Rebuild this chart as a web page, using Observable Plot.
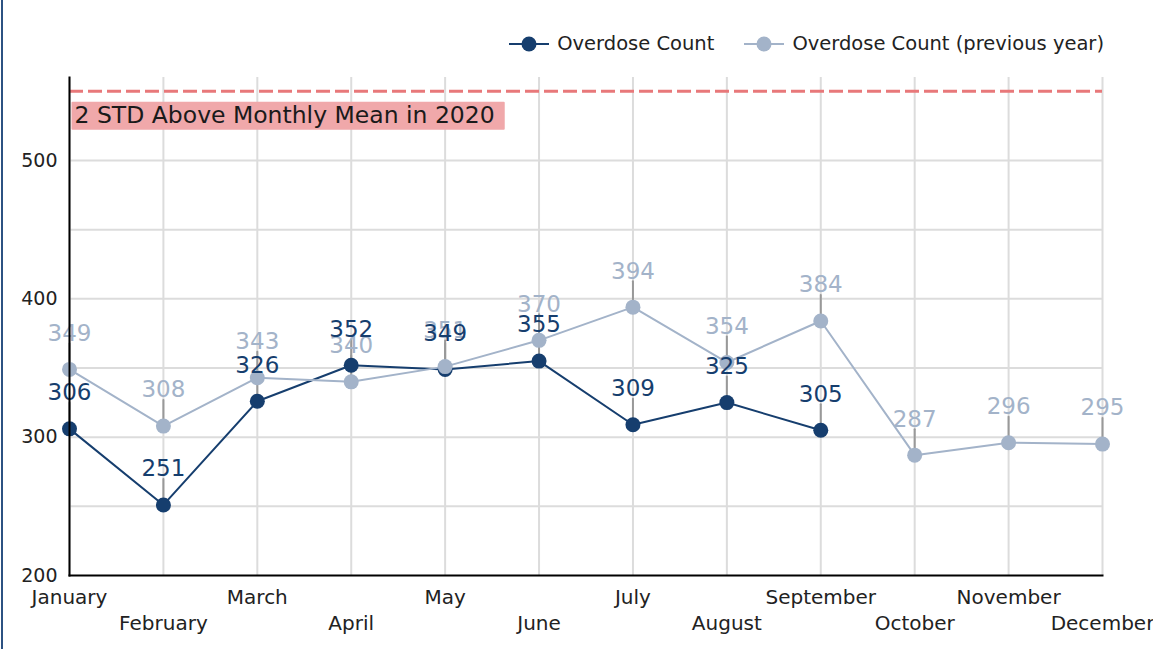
<!DOCTYPE html>
<html><head><meta charset="utf-8">
<script src="https://cdn.jsdelivr.net/npm/d3@7"></script>
<script src="https://cdn.jsdelivr.net/npm/@observablehq/plot@0.6"></script>
<style>
body{margin:0;background:#fff;font-family:"DejaVu Sans",sans-serif;}
#wrap{position:relative;width:1153px;height:649px;overflow:hidden;background:#fff;}
#border{position:absolute;left:1px;top:0;width:2px;height:649px;background:#2c5282;}
#legend{position:absolute;top:32px;right:49px;display:flex;align-items:center;font-size:19.5px;color:#222;white-space:nowrap;}
.item{display:flex;align-items:center;margin-left:30px;}
.item svg{margin-right:8px;}
#chart{position:absolute;top:60px;left:0;}
</style></head>
<body>
<div id="wrap"><div id="border"></div><div id="legend"></div><div id="chart"></div></div>
<script>
const months = ["January","February","March","April","May","June","July","August","September","October","November","December"];
const current = [306,251,326,352,349,355,309,325,305];
const previous = [349,308,343,340,351,370,394,354,384,287,296,295];
const seriesNames = ["Overdose Count","Overdose Count (previous year)"];
const seriesColors = ["#163e6e","#a3b3c9"];
const threshold = 550;
const thresholdLabel = "2 STD Above Monthly Mean in 2020";
const yTicks = [200,300,400,500];
const gridTicks = [250,300,350,400,450,500];
const yDomain = [200,560];

const curRows = current.map((v,i)=>({month:months[i],value:v}));
const prevRows = previous.map((v,i)=>({month:months[i],value:v}));
const oddMonths = months.filter((m,i)=>i%2===0);
const evenMonths = months.filter((m,i)=>i%2===1);

const leader = {draw(ctx,l){ctx.moveTo(0,0);ctx.lineTo(0,-l);}};

const plot = Plot.plot({
  width:1153, height:589,
  marginTop:17, marginBottom:74, marginLeft:69, marginRight:51,
  style:{fontFamily:"DejaVu Sans, sans-serif", color:"#222", background:"transparent"},
  x:{type:"point", domain:months, padding:0, inset:0, round:false, axis:null, label:null},
  y:{domain:yDomain, inset:0, axis:null, label:null},
  marks:[
    Plot.gridY(gridTicks,{stroke:"#dcdcdc",strokeOpacity:1,strokeWidth:2}),
    Plot.gridX(months,{stroke:"#dcdcdc",strokeOpacity:1,strokeWidth:2}),
    Plot.ruleY([threshold],{stroke:"#e8787a",strokeWidth:3,strokeDasharray:"14,5"}),
    Plot.text([thresholdLabel],{x:()=>months[0],y:()=>threshold,text:d=>d,dx:5,dy:24,textAnchor:"start",fontSize:23.5,fill:"#1a1a1a",className:"thr"}),
    Plot.vector(prevRows,{x:"month",y:"value",length:26,rotate:0,anchor:"start",stroke:"#999",strokeWidth:2,shape:leader}),
    Plot.vector(curRows,{x:"month",y:"value",length:26,rotate:0,anchor:"start",stroke:"#999",strokeWidth:2,shape:leader}),
    Plot.line(curRows,{x:"month",y:"value",stroke:seriesColors[0],strokeWidth:2}),
    Plot.line(prevRows,{x:"month",y:"value",stroke:seriesColors[1],strokeWidth:2}),
    Plot.dot(curRows,{x:"month",y:"value",fill:seriesColors[0],r:7.5}),
    Plot.dot(prevRows,{x:"month",y:"value",fill:seriesColors[1],r:7.5}),
    Plot.text(prevRows,{x:"month",y:"value",text:d=>String(d.value),dy:-36,fill:seriesColors[1],fontSize:23}),
    Plot.text(curRows,{x:"month",y:"value",text:d=>String(d.value),dy:-36,fill:seriesColors[0],fontSize:23}),
    Plot.axisY(yTicks,{tickSize:0,tickPadding:12,fontSize:19,fill:"#222",label:null}),
    Plot.axisX(oddMonths,{tickSize:0,tickPadding:14,fontSize:20,fill:"#222",label:null}),
    Plot.axisX(evenMonths,{tickSize:0,tickPadding:40,fontSize:20,fill:"#222",label:null}),
    Plot.frame({anchor:"left",stroke:"#000",strokeWidth:2}),
    Plot.frame({anchor:"bottom",stroke:"#000",strokeWidth:2})
  ]
});
document.getElementById("chart").appendChild(plot);

// background box behind threshold label
const t = plot.querySelector(".thr text");
if (t) {
  const b = t.getBBox();
  const ns = "http://www.w3.org/2000/svg";
  const r = document.createElementNS(ns,"rect");
  r.setAttribute("x", b.x-3); r.setAttribute("y", b.y+1);
  r.setAttribute("width", b.width+13); r.setAttribute("height", b.height);
  r.setAttribute("fill","#f0a8aa"); r.setAttribute("rx",1);
  const g = t.closest("g");
  g.insertBefore(r, g.firstChild);
  if (t.getAttribute("transform")) r.setAttribute("transform", t.getAttribute("transform"));
}

// legend
const leg = document.getElementById("legend");
seriesNames.forEach((n,i)=>{
  const it = document.createElement("div"); it.className="item";
  it.innerHTML = `<svg width="40" height="18"><line x1="0" x2="40" y1="9" y2="9" stroke="${seriesColors[i]}" stroke-width="2"/><circle cx="20" cy="9" r="7.5" fill="${seriesColors[i]}"/></svg><span>${n}</span>`;
  leg.appendChild(it);
});
</script>
</body></html>
